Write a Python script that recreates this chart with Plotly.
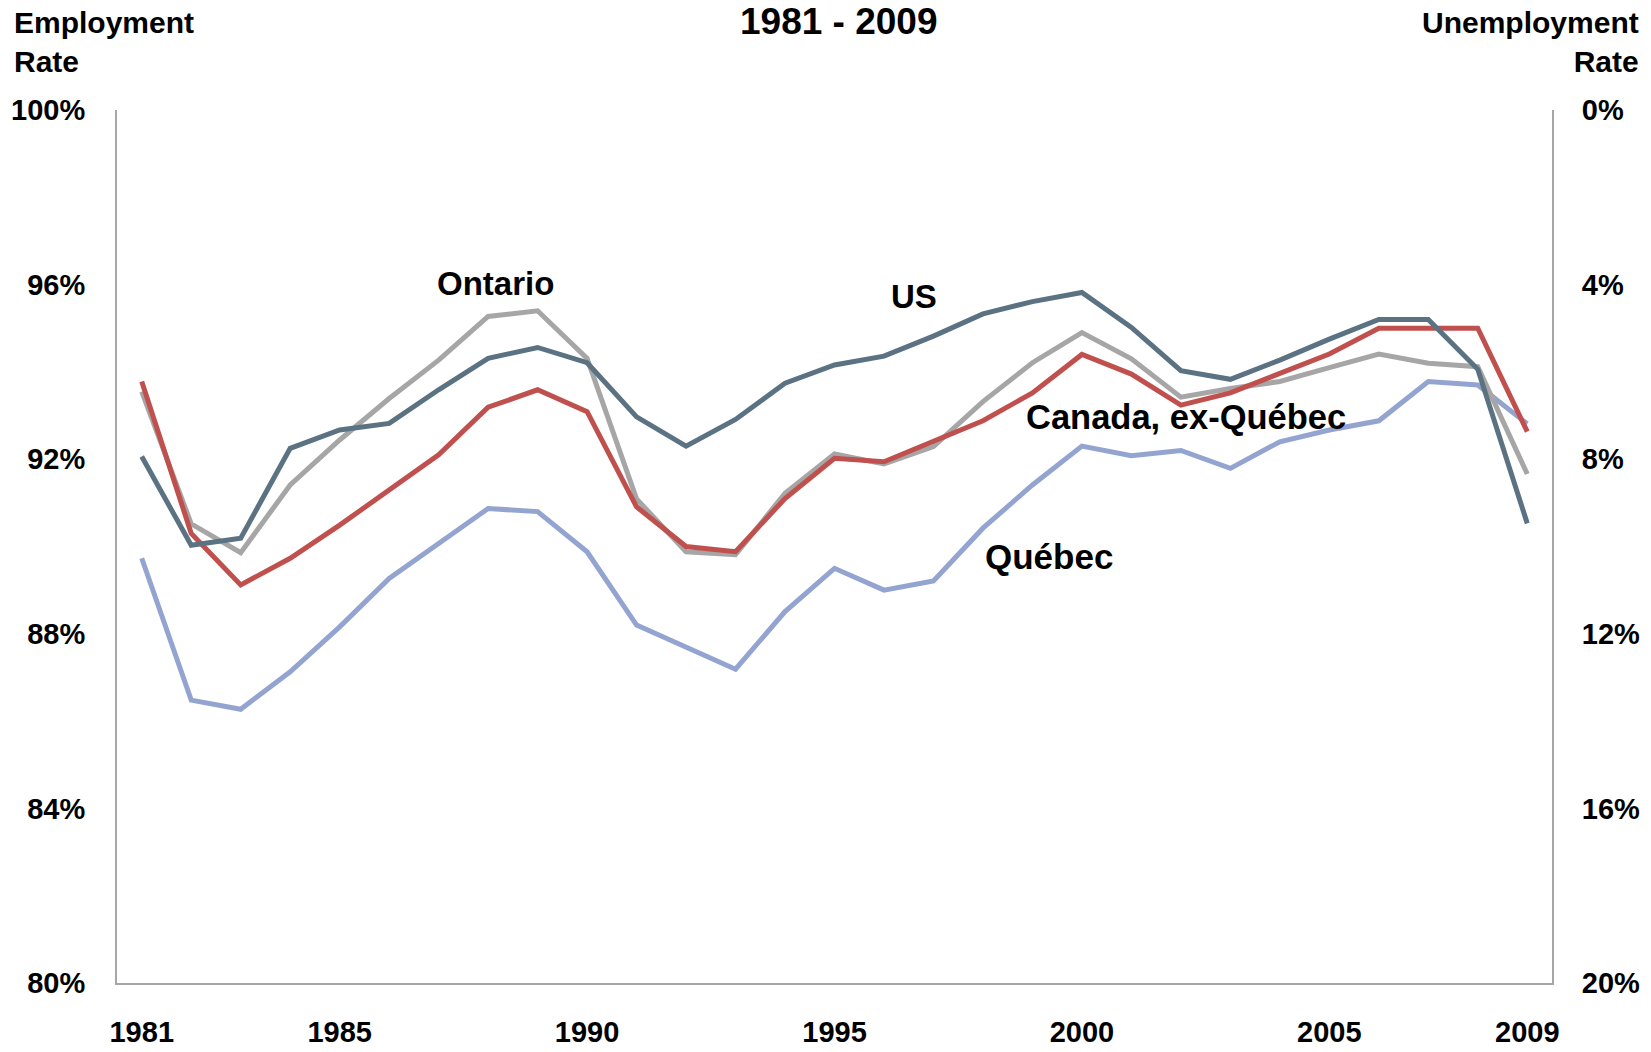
import plotly.graph_objects as go

years = list(range(1981, 2010))

us = [92.06, 90.03, 90.19, 92.25, 92.67, 92.82, 93.59, 94.31, 94.56, 94.21,
      92.97, 92.30, 92.91, 93.74, 94.16, 94.36, 94.82, 95.33, 95.61, 95.82,
      95.02, 94.03, 93.83, 94.27, 94.75, 95.20, 95.20, 94.06, 90.53]

ontario = [93.55, 90.52, 89.86, 91.41, 92.44, 93.39, 94.27, 95.27, 95.40, 94.31,
           91.09, 89.88, 89.81, 91.22, 92.12, 91.89, 92.29, 93.32, 94.21, 94.90,
           94.30, 93.42, 93.62, 93.78, 94.10, 94.41, 94.20, 94.12, 91.66]

canada_ex_qc = [93.78, 90.30, 89.12, 89.73, 90.49, 91.29, 92.10, 93.19, 93.59, 93.09,
                90.91, 90.00, 89.88, 91.10, 92.02, 91.94, 92.40, 92.88, 93.52, 94.40,
                93.95, 93.24, 93.52, 93.98, 94.41, 95.00, 95.00, 95.00, 92.63]

quebec = [89.73, 86.48, 86.27, 87.13, 88.16, 89.27, 90.07, 90.87, 90.80, 89.88,
          88.20, 87.71, 87.19, 88.51, 89.50, 89.00, 89.21, 90.42, 91.41, 92.30,
          92.08, 92.20, 91.79, 92.40, 92.67, 92.88, 93.78, 93.70, 92.81]

x_tick_years = [1981, 1985, 1990, 1995, 2000, 2005, 2009]
left_ticks = [80, 84, 88, 92, 96, 100]
right_ticks = [0, 4, 8, 12, 16, 20]

FONT = "Liberation Sans, Arial, sans-serif"

series = [
    ("Québec", quebec, "#94a4d0"),
    ("Ontario", ontario, "#a6a6a6"),
    ("Canada, ex-Québec", canada_ex_qc, "#c0504d"),
    ("US", us, "#5b7282"),
]

W, H = 1651, 1052
plot_l, plot_r, plot_t, plot_b = 117, 1552, 110, 983

fig = go.Figure()
for name, vals, color in series:
    fig.add_trace(go.Scatter(x=years, y=vals, mode="lines", name=name,
                             line=dict(color=color, width=5),
                             hoverinfo="x+y+name"))

# invisible trace to anchor the right (unemployment) axis
fig.add_trace(go.Scatter(x=years, y=[100 - v for v in us], yaxis="y2",
                         mode="lines", line=dict(width=0), opacity=0,
                         showlegend=False, hoverinfo="skip"))

axis_common = dict(
    showgrid=False, zeroline=False,
    showline=True, linecolor="#a6a6a6", linewidth=2,
    ticks="", automargin=False,
    tickfont=dict(size=29, family=FONT, color="black"),
)

fig.update_layout(
    width=W, height=H,
    margin=dict(l=plot_l, r=W - plot_r, t=plot_t, b=H - plot_b, autoexpand=False),
    paper_bgcolor="white", plot_bgcolor="white",
    showlegend=False,
    font=dict(family=FONT, color="black"),
    xaxis=dict(
        range=[1980.5, 2009.5],
        tickvals=x_tick_years,
        ticktext=[f"<b>{y}</b>" for y in x_tick_years],
        ticklabelstandoff=22,
        **axis_common,
    ),
    yaxis=dict(
        range=[80, 100],
        tickvals=left_ticks,
        ticktext=[f"<b>{v}%</b>" for v in left_ticks],
        ticklabelstandoff=24,
        **axis_common,
    ),
    yaxis2=dict(
        range=[20, 0],
        overlaying="y", side="right",
        tickvals=right_ticks,
        ticktext=[f"<b>{v}%</b>" for v in right_ticks],
        ticklabelstandoff=22,
        **axis_common,
    ),
)


def px_to_paper(px, py):
    return (px - plot_l) / (plot_r - plot_l), (plot_b - py) / (plot_b - plot_t)


headers = [
    ("<b>1981 - 2009</b>", 839, 22, 37, "center"),
    ("<b>Employment<br>Rate</b>", 13, 42, 30, "left"),
    ("<b>Unemployment<br>Rate</b>", 1640, 42, 30, "right"),
]
for text, px, py, size, anchor in headers:
    ppx, ppy = px_to_paper(px, py)
    fig.add_annotation(
        text=text, xref="paper", yref="paper", x=ppx, y=ppy,
        showarrow=False, xanchor=anchor, yanchor="middle", align=anchor,
        borderpad=0,
        font=dict(size=size, family=FONT, color="black"),
    )

labels = [
    ("Ontario", 496, 283, 33),
    ("US", 914, 296, 33),
    ("Canada, ex-Québec", 1186, 417, 34.5),
    ("Québec", 1049, 556, 35),
]
for text, px, py, size in labels:
    ppx, ppy = px_to_paper(px, py)
    fig.add_annotation(
        text=f"<b>{text}</b>", xref="paper", yref="paper", x=ppx, y=ppy,
        showarrow=False, xanchor="center", yanchor="middle",
        font=dict(size=size, family=FONT, color="black"),
    )

# place the figure flush with the page corner (remove default body margin)
post_js = ("document.body.style.margin='0';"
           "document.body.style.overflow='hidden';")

fig.write_html("out.html", post_script=post_js,
               config={"displayModeBar": False})
